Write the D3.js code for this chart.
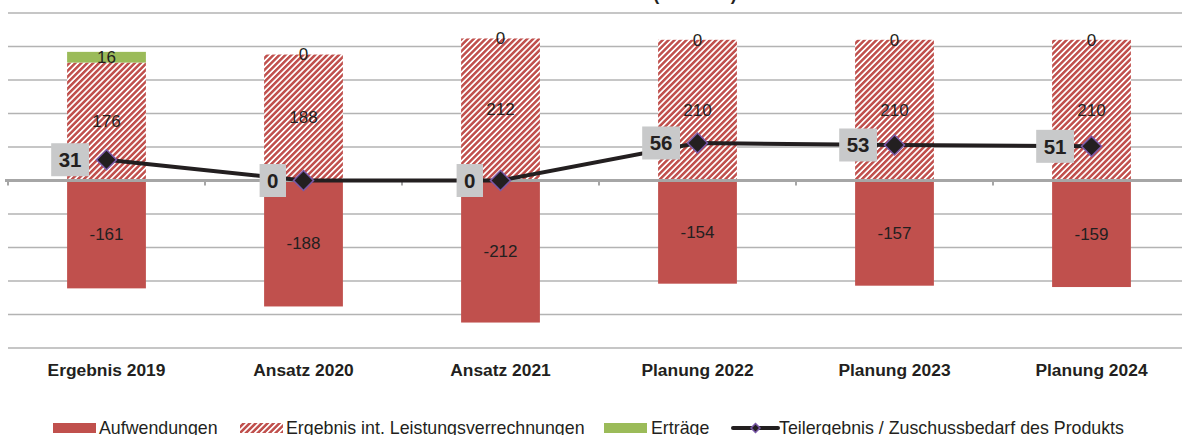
<!DOCTYPE html>
<html><head><meta charset="utf-8">
<script src="https://cdn.jsdelivr.net/npm/d3@7"></script>
<style>html,body{margin:0;padding:0;background:#fff;overflow:hidden}svg{display:block;font-family:"Liberation Sans",Arial,sans-serif}</style>
</head><body>
<svg id="c" width="1182" height="435"></svg>
<script>
const categories = ["Ergebnis 2019","Ansatz 2020","Ansatz 2021","Planung 2022","Planung 2023","Planung 2024"];
const aufwendungen = [-161,-188,-212,-154,-157,-159];
const ilv = [176,188,212,210,210,210];
const ertraege = [16,0,0,0,0,0];
const teilergebnis = [31,0,0,56,53,51];
const yTicks = [-250,-200,-150,-100,-50,0,50,100,150,200,250];
const legendLabels = ["Aufwendungen","Ergebnis int. Leistungsverrechnungen","Erträge","Teilergebnis / Zuschussbedarf des Produkts"];
const titleText = "(in Tsd. €)";

const RED="#c0504d", GREEN="#9bbb59", LINE="#231f20", TXT="#231f20";
const svg = d3.select("#c");
const defs = svg.append("defs");
const pat = defs.append("pattern").attr("id","hatch").attr("patternUnits","userSpaceOnUse")
  .attr("width",4.2).attr("height",4.2).attr("patternTransform","rotate(45)");
pat.append("rect").attr("width",4.2).attr("height",4.2).attr("fill","#fff");
pat.append("rect").attr("width",2.5).attr("height",4.2).attr("fill",RED);

const x = d3.scaleBand().domain(categories).range([8,1190]).padding(0);
const y = d3.scaleLinear().domain([-250,250]).range([348,13]);
const cx = c => x(c)+x.bandwidth()/2;
const bw = x.bandwidth()*0.4;

// title (mostly above view)
svg.append("text").attr("x",695).attr("y",0).attr("text-anchor","middle")
  .attr("font-weight","bold").attr("font-size",18).attr("fill",TXT).text(titleText);

// gridlines
svg.append("g").selectAll("line").data(yTicks.filter(d=>d!==0)).join("line")
  .attr("x1",8).attr("x2",1182).attr("y1",d=>y(d)).attr("y2",d=>y(d))
  .attr("stroke","#b3b3b3").attr("stroke-width",1.4);

// bars
const g = svg.append("g");
categories.forEach((c,i)=>{
  g.append("rect").attr("x",cx(c)-bw/2).attr("width",bw)
    .attr("y",y(0)).attr("height",y(aufwendungen[i])-y(0)).attr("fill",RED);
  g.append("rect").attr("x",cx(c)-bw/2).attr("width",bw)
    .attr("y",y(ilv[i])).attr("height",y(0)-y(ilv[i])).attr("fill","url(#hatch)");
  if(ertraege[i]>0) g.append("rect").attr("x",cx(c)-bw/2).attr("width",bw)
    .attr("y",y(ilv[i]+ertraege[i])).attr("height",y(ilv[i])-y(ilv[i]+ertraege[i])).attr("fill",GREEN);
});

// zero axis
svg.append("line").attr("x1",5).attr("x2",1182).attr("y1",y(0)).attr("y2",y(0))
  .attr("stroke","#a6a6a6").attr("stroke-width",3);
const bounds = categories.map(c=>x(c)).concat([x.range()[1]]);
svg.append("g").selectAll("line").data(bounds).join("line")
  .attr("x1",d=>d).attr("x2",d=>d).attr("y1",y(0)).attr("y2",y(0)+5)
  .attr("stroke","#a6a6a6").attr("stroke-width",2);

// bar labels
const lab = svg.append("g").attr("font-size",17).attr("fill",TXT).attr("text-anchor","middle");
categories.forEach((c,i)=>{
  lab.append("text").attr("x",cx(c)).attr("y",(y(0)+y(aufwendungen[i]))/2).attr("dy","0.35em").text(aufwendungen[i]);
  lab.append("text").attr("x",cx(c)).attr("y",(y(0)+y(ilv[i]))/2).attr("dy","0.35em").text(ilv[i]);
  lab.append("text").attr("x",cx(c)).attr("y",(y(ilv[i])+y(ilv[i]+ertraege[i]))/2).attr("dy","0.35em").text(ertraege[i]);
});

// line
svg.append("path").datum(teilergebnis)
  .attr("d",d3.line().x((d,i)=>cx(categories[i])).y(d=>y(d)))
  .attr("fill","none").attr("stroke",LINE).attr("stroke-width",4);
svg.append("g").selectAll("path").data(teilergebnis).join("path")
  .attr("transform",(d,i)=>`translate(${cx(categories[i])},${y(d)}) rotate(45)`)
  .attr("d",d3.symbol().type(d3.symbolSquare).size(200)())
  .attr("fill",LINE).attr("stroke","#7a58a8").attr("stroke-width",1.5);

// line labels
const ll = svg.append("g");
teilergebnis.forEach((v,i)=>{
  const px = cx(categories[i]), py = y(v);
  const t = ll.append("text").attr("font-weight","bold").attr("font-size",20.5).attr("fill",TXT)
    .attr("text-anchor","middle").attr("dy","0.36em").text(v);
  const w = t.node().getComputedTextLength()+15;
  const right = px-17.5;
  ll.insert("rect","text").attr("x",right-w).attr("y",py-16.5).attr("width",w).attr("height",33).attr("fill","#c8c9ca");
  t.attr("x",right-w/2).attr("y",py);
});

// category labels
svg.append("g").selectAll("text").data(categories).join("text")
  .attr("x",d=>cx(d)).attr("y",376).attr("text-anchor","middle")
  .attr("font-weight","bold").attr("font-size",17.4).attr("fill",TXT).text(d=>d);

// legend
const lg = svg.append("g").attr("font-size",17.8).attr("fill",TXT);
lg.append("rect").attr("x",53).attr("y",423).attr("width",43).attr("height",10).attr("fill",RED);
lg.append("text").attr("x",99).attr("y",433.5).text(legendLabels[0]);
lg.append("rect").attr("x",240).attr("y",423).attr("width",43).attr("height",10).attr("fill","url(#hatch)");
lg.append("text").attr("x",286).attr("y",433.5).text(legendLabels[1]);
lg.append("rect").attr("x",604).attr("y",423).attr("width",43).attr("height",10).attr("fill",GREEN);
lg.append("text").attr("x",651).attr("y",433.5).text(legendLabels[2]);
lg.append("line").attr("x1",733).attr("x2",778).attr("y1",428).attr("y2",428).attr("stroke",LINE).attr("stroke-width",4).attr("stroke-linecap","round");
lg.append("path").attr("transform","translate(755.5,428) rotate(45)").attr("d",d3.symbol().type(d3.symbolSquare).size(40)())
  .attr("fill",LINE).attr("stroke","#7a58a8").attr("stroke-width",1.5);
lg.append("text").attr("x",779).attr("y",433.5).text(legendLabels[3]);
</script>
</body></html>
